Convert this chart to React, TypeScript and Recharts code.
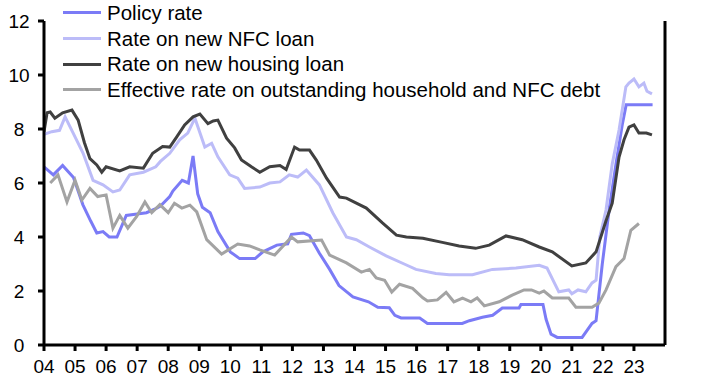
import { CartesianGrid, Line, LineChart, XAxis, YAxis } from 'recharts'

// dates as fractional years, values in %
const policyDates = [2004.0, 2004.3, 2004.6, 2004.95, 2005.25, 2005.5, 2005.7, 2005.9, 2006.1, 2006.35, 2006.65, 2007.0, 2007.3, 2007.6, 2007.75, 2008.05, 2008.15, 2008.45, 2008.65, 2008.8, 2008.95, 2009.1, 2009.35, 2009.6, 2010.0, 2010.3, 2010.8, 2011.05, 2011.5, 2011.85, 2011.97, 2012.35, 2012.55, 2012.87, 2013.2, 2013.5, 2013.95, 2014.45, 2014.75, 2015.12, 2015.3, 2015.5, 2016.1, 2016.35, 2017.47, 2017.7, 2018.12, 2018.45, 2018.76, 2019.3, 2019.36, 2020.07, 2020.17, 2020.33, 2020.53, 2021.33, 2021.65, 2021.78, 2021.98, 2022.2, 2022.42, 2022.63, 2022.75, 2023.6]
const policyRate = [6.6, 6.3, 6.65, 6.2, 5.2, 4.6, 4.15, 4.2, 4.0, 4.0, 4.8, 4.85, 4.9, 5.05, 5.15, 5.5, 5.7, 6.1, 6.0, 7.0, 5.6, 5.1, 4.9, 4.2, 3.45, 3.2, 3.2, 3.45, 3.7, 3.75, 4.1, 4.15, 4.05, 3.4, 2.8, 2.2, 1.78, 1.6, 1.4, 1.38, 1.1, 1.0, 1.0, 0.8, 0.8, 0.9, 1.03, 1.1, 1.37, 1.37, 1.5, 1.5, 0.95, 0.4, 0.28, 0.28, 0.8, 0.9, 3.0, 5.0, 6.7, 8.2, 8.9, 8.9]

const nfcDates = [2004.0, 2004.25, 2004.5, 2004.68, 2004.94, 2005.26, 2005.58, 2005.9, 2006.22, 2006.44, 2006.76, 2007.2, 2007.6, 2007.75, 2008.05, 2008.37, 2008.63, 2008.86, 2009.18, 2009.4, 2009.6, 2009.98, 2010.24, 2010.46, 2010.95, 2011.27, 2011.6, 2011.9, 2012.17, 2012.45, 2012.87, 2013.3, 2013.74, 2014.06, 2014.48, 2015.02, 2015.6, 2015.98, 2016.62, 2017.05, 2017.8, 2018.44, 2019.2, 2019.95, 2020.2, 2020.58, 2020.9, 2021.0, 2021.2, 2021.45, 2021.65, 2021.78, 2021.9, 2022.1, 2022.3, 2022.52, 2022.74, 2022.84, 2023.0, 2023.16, 2023.32, 2023.42, 2023.58]
const nfcRate = [7.8, 7.9, 7.95, 8.45, 7.85, 7.1, 6.1, 5.93, 5.67, 5.74, 6.3, 6.4, 6.6, 6.8, 7.1, 7.6, 7.85, 8.4, 7.33, 7.47, 6.97, 6.3, 6.18, 5.8, 5.85, 6.0, 6.04, 6.3, 6.22, 6.48, 5.93, 4.9, 4.0, 3.9, 3.63, 3.3, 3.0, 2.8, 2.65, 2.6, 2.6, 2.8, 2.85, 2.95, 2.85, 1.97, 2.04, 1.9, 2.04, 1.97, 2.3, 2.4, 4.0, 5.0, 6.7, 7.96, 9.56, 9.7, 9.85, 9.56, 9.7, 9.4, 9.3]

const housingDates = [2004.0, 2004.1, 2004.2, 2004.35, 2004.6, 2004.9, 2005.1, 2005.3, 2005.48, 2005.7, 2005.86, 2006.0, 2006.44, 2006.76, 2007.2, 2007.5, 2007.82, 2008.05, 2008.27, 2008.53, 2008.8, 2009.02, 2009.28, 2009.45, 2009.6, 2009.88, 2010.14, 2010.36, 2010.68, 2010.95, 2011.27, 2011.6, 2011.8, 2012.07, 2012.23, 2012.55, 2012.77, 2013.1, 2013.52, 2013.74, 2014.38, 2014.9, 2015.35, 2015.67, 2016.2, 2016.83, 2017.37, 2017.9, 2018.34, 2018.88, 2019.4, 2019.95, 2020.37, 2021.0, 2021.45, 2021.78, 2022.1, 2022.3, 2022.52, 2022.68, 2022.84, 2023.0, 2023.16, 2023.4, 2023.58]
const housingRate = [7.9, 8.6, 8.63, 8.4, 8.6, 8.7, 8.33, 7.5, 6.9, 6.67, 6.4, 6.6, 6.45, 6.6, 6.55, 7.1, 7.35, 7.33, 7.7, 8.15, 8.45, 8.55, 8.2, 8.3, 8.33, 7.66, 7.3, 6.85, 6.6, 6.4, 6.6, 6.65, 6.5, 7.33, 7.22, 7.22, 6.85, 6.18, 5.48, 5.44, 5.07, 4.52, 4.07, 4.0, 3.95, 3.8, 3.67, 3.58, 3.7, 4.04, 3.9, 3.63, 3.45, 2.93, 3.04, 3.45, 4.6, 5.25, 6.96, 7.6, 8.07, 8.15, 7.85, 7.85, 7.78]

const effectiveDates = [2004.2, 2004.45, 2004.74, 2005.0, 2005.22, 2005.48, 2005.73, 2006.0, 2006.22, 2006.44, 2006.7, 2006.98, 2007.25, 2007.47, 2007.73, 2008.0, 2008.2, 2008.44, 2008.7, 2008.92, 2009.24, 2009.72, 2010.24, 2010.62, 2010.95, 2011.43, 2011.97, 2012.17, 2012.94, 2013.2, 2013.74, 2014.22, 2014.48, 2014.7, 2014.97, 2015.2, 2015.45, 2015.87, 2016.2, 2016.35, 2016.67, 2016.95, 2017.2, 2017.48, 2017.75, 2017.95, 2018.18, 2018.66, 2019.08, 2019.46, 2019.7, 2019.95, 2020.1, 2020.37, 2020.9, 2021.13, 2021.65, 2021.87, 2022.1, 2022.42, 2022.68, 2022.9, 2023.16]
const effectiveRate = [6.0, 6.3, 5.3, 6.1, 5.37, 5.8, 5.5, 5.56, 4.33, 4.8, 4.33, 4.75, 5.3, 4.9, 5.2, 4.9, 5.25, 5.07, 5.18, 4.93, 3.9, 3.37, 3.74, 3.67, 3.52, 3.33, 4.0, 3.82, 3.89, 3.33, 3.04, 2.7, 2.8, 2.48, 2.4, 1.96, 2.25, 2.1, 1.75, 1.63, 1.67, 1.95, 1.6, 1.74, 1.6, 1.74, 1.45, 1.6, 1.85, 2.04, 2.04, 1.92, 2.0, 1.74, 1.74, 1.4, 1.4, 1.55, 2.04, 2.9, 3.2, 4.25, 4.5]

const yearTicks = [2004, 2005, 2006, 2007, 2008, 2009, 2010, 2011, 2012, 2013, 2014, 2015, 2016, 2017, 2018, 2019, 2020, 2021, 2022, 2023]
const valueTicks = [0, 2, 4, 6, 8, 10, 12]

const series = [
  { name: 'Policy rate', dates: policyDates, values: policyRate, color: '#7b7bf6' },
  { name: 'Rate on new NFC loan', dates: nfcDates, values: nfcRate, color: '#bcbcf8' },
  { name: 'Rate on new housing loan', dates: housingDates, values: housingRate, color: '#404040' },
  { name: 'Effective rate on outstanding household and NFC debt', dates: effectiveDates, values: effectiveRate, color: '#a3a3a3' },
]

const FONT = '"Liberation Sans", Arial, sans-serif'
const tickStyle = { fill: '#000', fontSize: 19, fontFamily: FONT }
const axisStroke = { stroke: '#000', strokeWidth: 3 }

function LeftTick({ x, y, payload }: any) {
  return (
    <text x={x - 17} y={y} dy="0.35em" textAnchor="middle" {...tickStyle}>
      {payload.value}
    </text>
  )
}

function Legendbox() {
  return (
    <div style={{ position: 'absolute', left: 63, top: 0, fontFamily: FONT, fontSize: 20.5, color: '#000' }}>
      {series.map((s) => (
        <div key={s.name} style={{ display: 'flex', alignItems: 'center', height: 25.7, whiteSpace: 'nowrap' }}>
          <span style={{ display: 'inline-block', width: 38, height: 3, background: s.color, marginRight: 6 }} />
          <span>{s.name}</span>
        </div>
      ))}
    </div>
  )
}

export default function App() {
  return (
    <div style={{ position: 'absolute', left: 0, top: 0, width: 708, height: 381, background: '#fff' }}>
      <LineChart width={708} height={381} margin={{ top: 21, right: 0, left: 0, bottom: 0 }}>
        <CartesianGrid stroke="none" />
        <XAxis
          type="number"
          dataKey="x"
          domain={[2004, 2024]}
          ticks={yearTicks}
          tickFormatter={(v: number) => String(v % 100).padStart(2, '0')}
          interval={0}
          height={36}
          tickSize={6}
          tickMargin={9}
          axisLine={axisStroke}
          tickLine={axisStroke}
          tick={tickStyle}
          allowDataOverflow
        />
        <YAxis
          yAxisId="left"
          domain={[0, 12]}
          ticks={valueTicks}
          width={44}
          tickSize={6}
          axisLine={axisStroke}
          tickLine={axisStroke}
          tick={<LeftTick />}
        />
        <YAxis
          yAxisId="right"
          orientation="right"
          domain={[0, 12]}
          ticks={valueTicks}
          width={43}
          tickSize={6}
          tickMargin={11}
          axisLine={axisStroke}
          tickLine={axisStroke}
          tick={tickStyle}
        />
        {series.map((s) => (
          <Line
            key={s.name}
            yAxisId="left"
            data={s.dates.map((d, i) => ({ x: d, y: s.values[i] }))}
            dataKey="y"
            name={s.name}
            type="linear"
            stroke={s.color}
            strokeWidth={3}
            dot={false}
            isAnimationActive={false}
          />
        ))}
      </LineChart>
      <Legendbox />
    </div>
  )
}
